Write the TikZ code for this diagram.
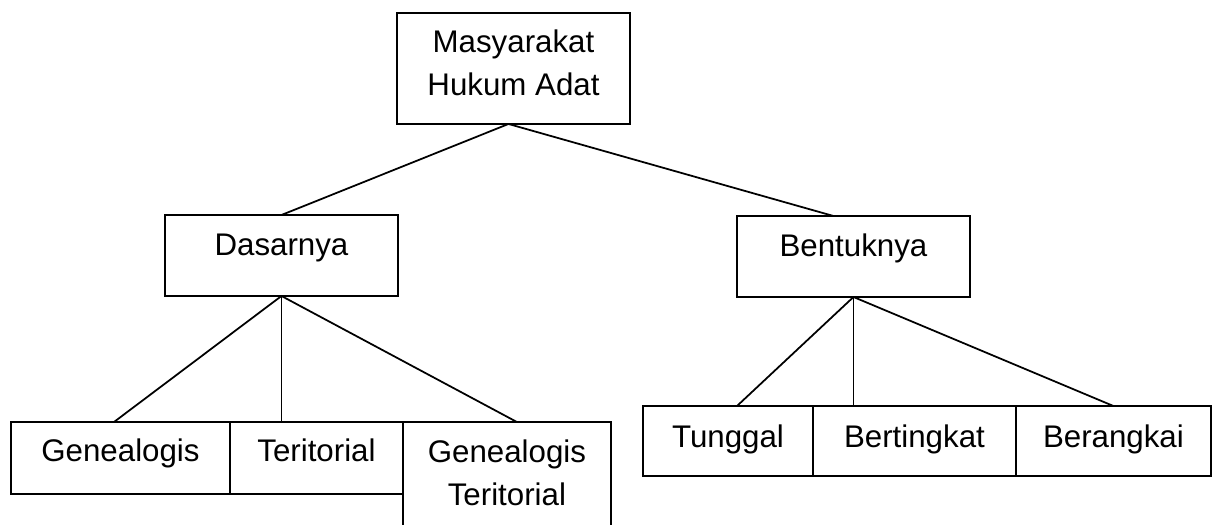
\documentclass[tikz,border=0pt]{standalone}
\usepackage{fontspec}
\setmainfont{Liberation Sans}
\usetikzlibrary{positioning,chains}

\begin{document}
\begin{tikzpicture}[
x=0.02cm, y=-0.02cm,
node distance=0pt,
line width=1pt,
font=\fontsize{17.8}{24}\selectfont,
  box/.style = {rectangle, draw, inner xsep=0pt, inner ysep=0pt,% all boxes of the tree
                outer sep=0pt, text height=0.82cm},
  Top/.style = {box, minimum width=4.66cm, text height=0.8cm, text depth=1.42cm},
  Mid/.style = {box, minimum width=4.66cm, text depth=0.8cm},
 Lbox/.style = {box, text height=0.8cm, text depth=0.64cm, on chain},% lower left row
 Rbox/.style = {box, text height=0.84cm, text depth=0.56cm, on chain},% lower right row
                        ]
\useasboundingbox (0,0) rectangle (1216,524);
\node[Top, anchor=north west] (mha) at (397,13)
    {\begin{tabular}[t]{@{}c@{}}Masyarakat\\Hukum Adat\end{tabular}};
\node[Mid, anchor=north west] (dasar) at (165,215) {Dasarnya};
\node[Mid, anchor=north west] (bentuk) at (737,216) {Bentuknya};
% left row
\begin{scope}[start chain = L going right]
\node[Lbox, minimum width=4.38cm, anchor=north west] at (11,422) {Genealogis};
\node[Lbox, minimum width=3.46cm] {Teritorial};
\end{scope}
\node[box, minimum width=4.16cm, text depth=1.6cm, anchor=north west] (gt) at (L-2.north east)
    {\begin{tabular}[t]{@{}c@{}}Genealogis\\Teritorial\end{tabular}};
% right row
\begin{scope}[start chain = R going right]
\node[Rbox, minimum width=3.4cm, anchor=north west] at (643,406) {Tunggal};
\foreach \i/\w in {Bertingkat/4.06cm,Berangkai/3.9cm}% <-- content and width of nodes
    \node[Rbox, minimum width=\w] {\i};
\end{scope}
% connectors
\draw ([xshift=-0.1cm]mha.south) -- (dasar.north);
\draw ([xshift=-0.1cm]mha.south) -- ([xshift=-0.4cm]bentuk.north);
\draw (dasar.south) -- ([xshift=-0.13cm]L-1.north);
\draw (dasar.south) -- (L-2.north -| dasar.south);
\draw (dasar.south) -- ([xshift=0.2cm]gt.north);
\draw (bentuk.south) -- ([xshift=0.18cm]R-1.north);
\draw (bentuk.south) -- (R-2.north -| bentuk.south);
\draw (bentuk.south) -- (R-3.north);
\end{tikzpicture}
\end{document}
